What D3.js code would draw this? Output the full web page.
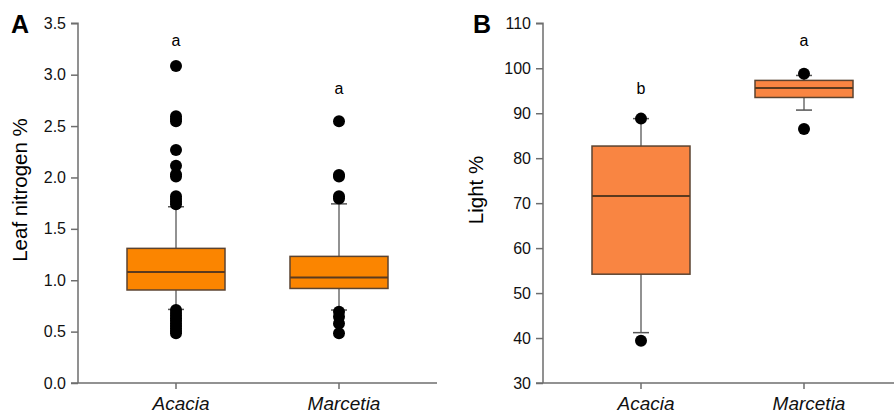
<!DOCTYPE html>
<html>
<head>
<meta charset="utf-8">
<script src="https://cdn.jsdelivr.net/npm/d3@7"></script>
<style>
  body { margin: 0; background: #fff; }
  svg { display: block; font-family: "Liberation Sans", Arial, sans-serif; }
  .axis path, .axis line { stroke: #6e6e6e; stroke-width: 1.5; }
  .axis text { fill: #111; font-size: 16px; }
</style>
</head>
<body>
<div id="chart"></div>
<script>
// categories
var species = ["Acacia", "Marcetia"];

// panel A: leaf nitrogen %
var nitroStats = [
    {q1: 0.905, median: 1.08, q3: 1.31, lo: 0.716, hi: 1.715},
    {q1: 0.92, median: 1.027, q3: 1.232, lo: 0.71, hi: 1.743}
];
var nitroOutliers = [
    [3.085, 2.596, 2.57, 2.547, 2.268, 2.113, 2.03, 2.01, 1.818, 1.79, 1.763, 1.74,
     0.71, 0.68, 0.655, 0.63, 0.605, 0.58, 0.555, 0.53, 0.505, 0.483],
    [2.547, 2.025, 2.01, 1.818, 1.795, 0.693, 0.645, 0.58, 0.483]
];
var nitroLetters = ["a", "a"];
var nitroLetterY = [3.335, 2.865];
var nitroTicks = [0, 0.5, 1, 1.5, 2, 2.5, 3, 3.5];

// panel B: light %
var lightStats = [
    {q1: 54.2, median: 71.6, q3: 82.7, lo: 41.2, hi: 88.8},
    {q1: 93.5, median: 95.6, q3: 97.3, lo: 90.7, hi: 98.4}
];
var lightOutliers = [
    [88.8, 39.4],
    [98.8, 86.5]
];
var lightLetters = ["b", "a"];
var lightLetterY = [95.6, 106.2];
var lightTicks = [30, 40, 50, 60, 70, 80, 90, 100, 110];

var W = 894, H = 412;
var svg = d3.select("#chart").append("svg")
    .attr("width", W).attr("height", H);

function panel(opts) {
    var g = svg.append("g");
    var x = d3.scalePoint()
        .domain(species)
        .range([opts.left + opts.catPad, opts.right - opts.catPadR]);
    var y = d3.scaleLinear()
        .domain(opts.domain)
        .range([383, 23.3]);

    var yAxis = d3.axisLeft(y)
        .tickValues(opts.ticks)
        .tickFormat(opts.fmt)
        .tickSize(7).tickPadding(5);

    var gy = g.append("g")
        .attr("class", "axis")
        .attr("transform", "translate(" + opts.left + ",0)")
        .call(yAxis);
    gy.select(".domain").attr("d", "M-7," + y.range()[1] + "H0V" + y.range()[0]);

    var gx = g.append("g")
        .attr("class", "axis")
        .attr("transform", "translate(0,383)");
    gx.append("path")
        .attr("class", "domain")
        .attr("d", "M" + (opts.left - 7) + ",0H" + opts.right)
        .attr("fill", "none");
    gx.selectAll("line.tk").data(species).enter().append("line")
        .attr("class", "tk")
        .attr("x1", function(d) { return x(d); })
        .attr("x2", function(d) { return x(d); })
        .attr("y1", 0).attr("y2", 6);
    gx.selectAll("text").data(species).enter().append("text")
        .attr("x", function(d) { return x(d) + 5; })
        .attr("y", 27)
        .attr("text-anchor", "middle")
        .style("font-size", "19px")
        .style("font-style", "italic")
        .text(function(d) { return d; });

    var bw = 98;
    var boxes = g.selectAll("g.box").data(opts.stats).enter().append("g")
        .attr("class", "box");

    boxes.append("line")
        .attr("x1", function(d, i) { return x(species[i]); })
        .attr("x2", function(d, i) { return x(species[i]); })
        .attr("y1", function(d) { return y(d.hi); })
        .attr("y2", function(d) { return y(d.lo); })
        .attr("stroke", "#6e6e6e").attr("stroke-width", 1.5);

    ["hi", "lo"].forEach(function(k) {
        boxes.append("line")
            .attr("x1", function(d, i) { return x(species[i]) - 8; })
            .attr("x2", function(d, i) { return x(species[i]) + 8; })
            .attr("y1", function(d) { return y(d[k]); })
            .attr("y2", function(d) { return y(d[k]); })
            .attr("stroke", "#555").attr("stroke-width", 1.5);
    });

    boxes.append("rect")
        .attr("x", function(d, i) { return x(species[i]) - bw / 2; })
        .attr("y", function(d) { return y(d.q3); })
        .attr("width", bw)
        .attr("height", function(d) { return y(d.q1) - y(d.q3); })
        .attr("fill", opts.fill)
        .attr("stroke", "#5b4330").attr("stroke-width", 1.5);

    boxes.append("line")
        .attr("x1", function(d, i) { return x(species[i]) - bw / 2; })
        .attr("x2", function(d, i) { return x(species[i]) + bw / 2; })
        .attr("y1", function(d) { return y(d.median); })
        .attr("y2", function(d) { return y(d.median); })
        .attr("stroke", "#5b3a1e").attr("stroke-width", 2);

    opts.outliers.forEach(function(vals, i) {
        g.selectAll("circle.o" + i).data(vals).enter().append("circle")
            .attr("class", "o" + i)
            .attr("cx", x(species[i]))
            .attr("cy", function(d) { return y(d); })
            .attr("r", 6)
            .attr("fill", "#000");
    });

    g.selectAll("text.letter").data(opts.letters).enter().append("text")
        .attr("class", "letter")
        .attr("x", function(d, i) { return x(species[i]); })
        .attr("y", function(d, i) { return y(opts.letterY[i]); })
        .attr("dy", "0.35em")
        .attr("text-anchor", "middle")
        .style("font-size", "16px")
        .text(function(d) { return d; });

    g.append("text")
        .attr("transform", "translate(" + opts.titleX + ",190) rotate(-90)")
        .attr("text-anchor", "middle")
        .style("font-size", "20.5px")
        .text(opts.title);

    g.append("text")
        .attr("x", opts.labelX).attr("y", 33)
        .style("font-size", "25px")
        .style("font-weight", "bold")
        .text(opts.label);
}

panel({
    left: 78, right: 437, catPad: 98, catPadR: 98,
    domain: [0, 3.5], ticks: nitroTicks, fmt: d3.format(".1f"),
    stats: nitroStats, outliers: nitroOutliers,
    letters: nitroLetters, letterY: nitroLetterY,
    fill: "#fb8500", title: "Leaf nitrogen %", titleX: 27,
    label: "A", labelX: 11
});

panel({
    left: 543, right: 894, catPad: 98, catPadR: 90,
    domain: [30, 110], ticks: lightTicks, fmt: d3.format("d"),
    stats: lightStats, outliers: lightOutliers,
    letters: lightLetters, letterY: lightLetterY,
    fill: "#f98542", title: "Light %", titleX: 483,
    label: "B", labelX: 473
});
</script>
</body>
</html>
